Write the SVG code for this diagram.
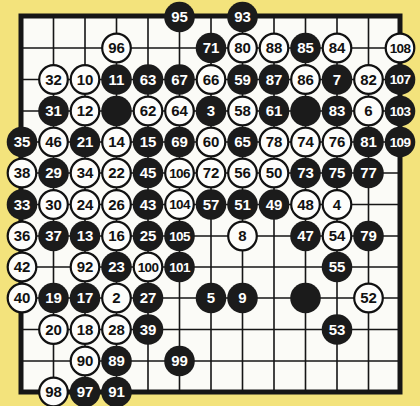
<svg xmlns="http://www.w3.org/2000/svg" width="420" height="406" viewBox="0 0 420 406">
<style>
.bg{fill:#f3e37c}
.board{fill:#fbfbf7;stroke:#161616;stroke-width:5}
.ln{stroke:#161616;stroke-width:1.6}
.b circle{fill:#1b1b1b}
.w circle{fill:#fdfdfb;stroke:#111;stroke-width:2.2}
text{font-family:"Liberation Sans","DejaVu Sans",sans-serif;font-weight:bold;font-size:15px;text-anchor:middle}
.b text{fill:#fff}
.w text{fill:#111}
text.t3{font-size:13.5px;letter-spacing:-0.7px}
</style>
<rect class="bg" x="0" y="0" width="420" height="406"/>
<g id="board">
<rect class="board" x="21" y="16" width="379" height="376"/>
<g id="connectors" class="ln">
<path d="M53.5 16V392M85 16V392M116.5 16V392M148 16V392M179.5 16V392M211 16V392M242.5 16V392M274 16V392M305.5 16V392M337 16V392M368.5 16V392"/>
<path d="M21 48H400M21 79.5H400M21 111H400M21 142H400M21 173H400M21 204.5H400M21 236H400M21 267H400M21 298H400M21 329.5H400M21 361H400"/>
</g>
</g>
<g id="stones">
<g id="s95" class="b" transform="translate(179.5,17)"><circle r="15.3"/><text y="5.3">95</text></g>
<g id="s93" class="b" transform="translate(242.5,17)"><circle r="15.3"/><text y="5.3">93</text></g>

<g id="s96" class="w" transform="translate(116.5,48)"><circle r="14.3"/><text y="5.3">96</text></g>
<g id="s71" class="b" transform="translate(211,48)"><circle r="15.3"/><text y="5.3">71</text></g>
<g id="s80" class="w" transform="translate(242.5,48)"><circle r="14.3"/><text y="5.3">80</text></g>
<g id="s88" class="w" transform="translate(274,48)"><circle r="14.3"/><text y="5.3">88</text></g>
<g id="s85" class="b" transform="translate(305.5,48)"><circle r="15.3"/><text y="5.3">85</text></g>
<g id="s84" class="w" transform="translate(337,48)"><circle r="14.3"/><text y="5.3">84</text></g>
<g id="s108" class="w" transform="translate(400,48)"><circle r="14.3"/><text class="t3" y="4.8">108</text></g>

<g id="s32" class="w" transform="translate(53.5,79.5)"><circle r="14.3"/><text y="5.3">32</text></g>
<g id="s10" class="w" transform="translate(85,79.5)"><circle r="14.3"/><text y="5.3">10</text></g>
<g id="s11" class="b" transform="translate(116.5,79.5)"><circle r="15.3"/><text y="5.3">11</text></g>
<g id="s63" class="b" transform="translate(148,79.5)"><circle r="15.3"/><text y="5.3">63</text></g>
<g id="s67" class="b" transform="translate(179.5,79.5)"><circle r="15.3"/><text y="5.3">67</text></g>
<g id="s66" class="w" transform="translate(211,79.5)"><circle r="14.3"/><text y="5.3">66</text></g>
<g id="s59" class="b" transform="translate(242.5,79.5)"><circle r="15.3"/><text y="5.3">59</text></g>
<g id="s87" class="b" transform="translate(274,79.5)"><circle r="15.3"/><text y="5.3">87</text></g>
<g id="s86" class="w" transform="translate(305.5,79.5)"><circle r="14.3"/><text y="5.3">86</text></g>
<g id="s7" class="b" transform="translate(337,79.5)"><circle r="15.3"/><text y="5.3">7</text></g>
<g id="s82" class="w" transform="translate(368.5,79.5)"><circle r="14.3"/><text y="5.3">82</text></g>
<g id="s107" class="b" transform="translate(400,79.5)"><circle r="15.3"/><text class="t3" y="4.8">107</text></g>

<g id="s31" class="b" transform="translate(53.5,111)"><circle r="15.3"/><text y="5.3">31</text></g>
<g id="s12" class="w" transform="translate(85,111)"><circle r="14.3"/><text y="5.3">12</text></g>
<g id="sb1" class="b" transform="translate(116.5,111)"><circle r="15.3"/></g>
<g id="s62" class="w" transform="translate(148,111)"><circle r="14.3"/><text y="5.3">62</text></g>
<g id="s64" class="w" transform="translate(179.5,111)"><circle r="14.3"/><text y="5.3">64</text></g>
<g id="s3" class="b" transform="translate(211,111)"><circle r="15.3"/><text y="5.3">3</text></g>
<g id="s58" class="w" transform="translate(242.5,111)"><circle r="14.3"/><text y="5.3">58</text></g>
<g id="s61" class="b" transform="translate(274,111)"><circle r="15.3"/><text y="5.3">61</text></g>
<g id="sb2" class="b" transform="translate(305.5,111)"><circle r="15.3"/></g>
<g id="s83" class="b" transform="translate(337,111)"><circle r="15.3"/><text y="5.3">83</text></g>
<g id="s6" class="w" transform="translate(368.5,111)"><circle r="14.3"/><text y="5.3">6</text></g>
<g id="s103" class="b" transform="translate(400,111)"><circle r="15.3"/><text class="t3" y="4.8">103</text></g>

<g id="s35" class="b" transform="translate(22,142)"><circle r="15.3"/><text y="5.3">35</text></g>
<g id="s46" class="w" transform="translate(53.5,142)"><circle r="14.3"/><text y="5.3">46</text></g>
<g id="s21" class="b" transform="translate(85,142)"><circle r="15.3"/><text y="5.3">21</text></g>
<g id="s14" class="w" transform="translate(116.5,142)"><circle r="14.3"/><text y="5.3">14</text></g>
<g id="s15" class="b" transform="translate(148,142)"><circle r="15.3"/><text y="5.3">15</text></g>
<g id="s69" class="b" transform="translate(179.5,142)"><circle r="15.3"/><text y="5.3">69</text></g>
<g id="s60" class="w" transform="translate(211,142)"><circle r="14.3"/><text y="5.3">60</text></g>
<g id="s65" class="b" transform="translate(242.5,142)"><circle r="15.3"/><text y="5.3">65</text></g>
<g id="s78" class="w" transform="translate(274,142)"><circle r="14.3"/><text y="5.3">78</text></g>
<g id="s74" class="w" transform="translate(305.5,142)"><circle r="14.3"/><text y="5.3">74</text></g>
<g id="s76" class="w" transform="translate(337,142)"><circle r="14.3"/><text y="5.3">76</text></g>
<g id="s81" class="b" transform="translate(368.5,142)"><circle r="15.3"/><text y="5.3">81</text></g>
<g id="s109" class="b" transform="translate(400,142)"><circle r="15.3"/><text class="t3" y="4.8">109</text></g>

<g id="s38" class="w" transform="translate(22,173)"><circle r="14.3"/><text y="5.3">38</text></g>
<g id="s29" class="b" transform="translate(53.5,173)"><circle r="15.3"/><text y="5.3">29</text></g>
<g id="s34" class="w" transform="translate(85,173)"><circle r="14.3"/><text y="5.3">34</text></g>
<g id="s22" class="w" transform="translate(116.5,173)"><circle r="14.3"/><text y="5.3">22</text></g>
<g id="s45" class="b" transform="translate(148,173)"><circle r="15.3"/><text y="5.3">45</text></g>
<g id="s106" class="w" transform="translate(179.5,173)"><circle r="14.3"/><text class="t3" y="4.8">106</text></g>
<g id="s72" class="w" transform="translate(211,173)"><circle r="14.3"/><text y="5.3">72</text></g>
<g id="s56" class="w" transform="translate(242.5,173)"><circle r="14.3"/><text y="5.3">56</text></g>
<g id="s50" class="w" transform="translate(274,173)"><circle r="14.3"/><text y="5.3">50</text></g>
<g id="s73" class="b" transform="translate(305.5,173)"><circle r="15.3"/><text y="5.3">73</text></g>
<g id="s75" class="b" transform="translate(337,173)"><circle r="15.3"/><text y="5.3">75</text></g>
<g id="s77" class="b" transform="translate(368.5,173)"><circle r="15.3"/><text y="5.3">77</text></g>

<g id="s33" class="b" transform="translate(22,204.5)"><circle r="15.3"/><text y="5.3">33</text></g>
<g id="s30" class="w" transform="translate(53.5,204.5)"><circle r="14.3"/><text y="5.3">30</text></g>
<g id="s24" class="w" transform="translate(85,204.5)"><circle r="14.3"/><text y="5.3">24</text></g>
<g id="s26" class="w" transform="translate(116.5,204.5)"><circle r="14.3"/><text y="5.3">26</text></g>
<g id="s43" class="b" transform="translate(148,204.5)"><circle r="15.3"/><text y="5.3">43</text></g>
<g id="s104" class="w" transform="translate(179.5,204.5)"><circle r="14.3"/><text class="t3" y="4.8">104</text></g>
<g id="s57" class="b" transform="translate(211,204.5)"><circle r="15.3"/><text y="5.3">57</text></g>
<g id="s51" class="b" transform="translate(242.5,204.5)"><circle r="15.3"/><text y="5.3">51</text></g>
<g id="s49" class="b" transform="translate(274,204.5)"><circle r="15.3"/><text y="5.3">49</text></g>
<g id="s48" class="w" transform="translate(305.5,204.5)"><circle r="14.3"/><text y="5.3">48</text></g>
<g id="s4" class="w" transform="translate(337,204.5)"><circle r="14.3"/><text y="5.3">4</text></g>

<g id="s36" class="w" transform="translate(22,236)"><circle r="14.3"/><text y="5.3">36</text></g>
<g id="s37" class="b" transform="translate(53.5,236)"><circle r="15.3"/><text y="5.3">37</text></g>
<g id="s13" class="b" transform="translate(85,236)"><circle r="15.3"/><text y="5.3">13</text></g>
<g id="s16" class="w" transform="translate(116.5,236)"><circle r="14.3"/><text y="5.3">16</text></g>
<g id="s25" class="b" transform="translate(148,236)"><circle r="15.3"/><text y="5.3">25</text></g>
<g id="s105" class="b" transform="translate(179.5,236)"><circle r="15.3"/><text class="t3" y="4.8">105</text></g>
<g id="s8" class="w" transform="translate(242.5,236)"><circle r="14.3"/><text y="5.3">8</text></g>
<g id="s47" class="b" transform="translate(305.5,236)"><circle r="15.3"/><text y="5.3">47</text></g>
<g id="s54" class="w" transform="translate(337,236)"><circle r="14.3"/><text y="5.3">54</text></g>
<g id="s79" class="b" transform="translate(368.5,236)"><circle r="15.3"/><text y="5.3">79</text></g>

<g id="s42" class="w" transform="translate(22,267)"><circle r="14.3"/><text y="5.3">42</text></g>
<g id="s92" class="w" transform="translate(85,267)"><circle r="14.3"/><text y="5.3">92</text></g>
<g id="s23" class="b" transform="translate(116.5,267)"><circle r="15.3"/><text y="5.3">23</text></g>
<g id="s100" class="w" transform="translate(148,267)"><circle r="14.3"/><text class="t3" y="4.8">100</text></g>
<g id="s101" class="b" transform="translate(179.5,267)"><circle r="15.3"/><text class="t3" y="4.8">101</text></g>
<g id="s55" class="b" transform="translate(337,267)"><circle r="15.3"/><text y="5.3">55</text></g>

<g id="s40" class="w" transform="translate(22,298)"><circle r="14.3"/><text y="5.3">40</text></g>
<g id="s19" class="b" transform="translate(53.5,298)"><circle r="15.3"/><text y="5.3">19</text></g>
<g id="s17" class="b" transform="translate(85,298)"><circle r="15.3"/><text y="5.3">17</text></g>
<g id="s2" class="w" transform="translate(116.5,298)"><circle r="14.3"/><text y="5.3">2</text></g>
<g id="s27" class="b" transform="translate(148,298)"><circle r="15.3"/><text y="5.3">27</text></g>
<g id="s5" class="b" transform="translate(211,298)"><circle r="15.3"/><text y="5.3">5</text></g>
<g id="s9" class="b" transform="translate(242.5,298)"><circle r="15.3"/><text y="5.3">9</text></g>
<g id="sb3" class="b" transform="translate(305.5,298)"><circle r="15.3"/></g>
<g id="s52" class="w" transform="translate(368.5,298)"><circle r="14.3"/><text y="5.3">52</text></g>

<g id="s20" class="w" transform="translate(53.5,329.5)"><circle r="14.3"/><text y="5.3">20</text></g>
<g id="s18" class="w" transform="translate(85,329.5)"><circle r="14.3"/><text y="5.3">18</text></g>
<g id="s28" class="w" transform="translate(116.5,329.5)"><circle r="14.3"/><text y="5.3">28</text></g>
<g id="s39" class="b" transform="translate(148,329.5)"><circle r="15.3"/><text y="5.3">39</text></g>
<g id="s53" class="b" transform="translate(337,329.5)"><circle r="15.3"/><text y="5.3">53</text></g>

<g id="s90" class="w" transform="translate(85,361)"><circle r="14.3"/><text y="5.3">90</text></g>
<g id="s89" class="b" transform="translate(116.5,361)"><circle r="15.3"/><text y="5.3">89</text></g>
<g id="s99" class="b" transform="translate(179.5,361)"><circle r="15.3"/><text y="5.3">99</text></g>

<g id="s98" class="w" transform="translate(53.5,392)"><circle r="14.3"/><text y="5.3">98</text></g>
<g id="s97" class="b" transform="translate(85,392)"><circle r="15.3"/><text y="5.3">97</text></g>
<g id="s91" class="b" transform="translate(116.5,392)"><circle r="15.3"/><text y="5.3">91</text></g>
</g>
</svg>
